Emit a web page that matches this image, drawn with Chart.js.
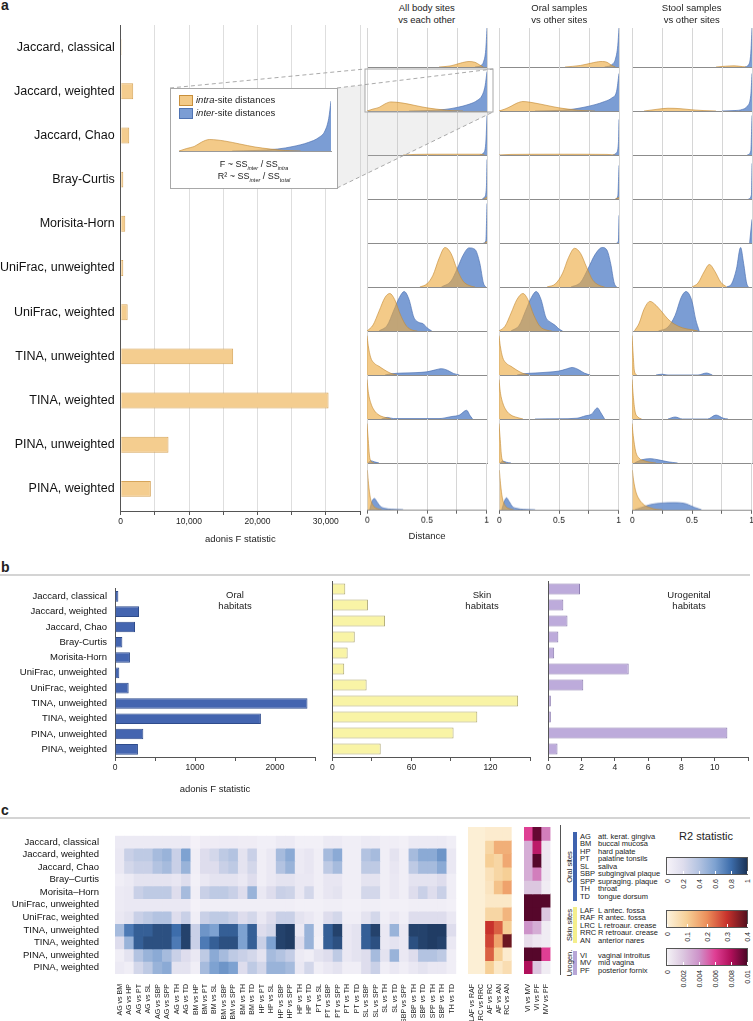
<!DOCTYPE html>
<html>
<head>
<meta charset="utf-8">
<script src="https://cdn.jsdelivr.net/npm/chart.js@4.4.1/dist/chart.umd.min.js"></script>
<style>
body { margin: 0; background: #fff; }
#fig { position: relative; width: 753px; height: 1021px; overflow: hidden; background: #fff;
       font-family: 'Liberation Sans', Arial, sans-serif; color: #222; }
#fig canvas { position: absolute; }
.t { position: absolute; white-space: nowrap; }
.rule { position: absolute; left: 0; width: 750px; height: 2px; background: #d4d4d4; }
.vt { position: absolute; white-space: nowrap; writing-mode: vertical-rl; transform: rotate(180deg); }
</style>
</head>
<body>
<div id="fig"></div>
<script>
// ---------- data ----------
// panel a : adonis F, all body sites
const metrics = ['Jaccard, classical', 'Jaccard, weighted', 'Jaccard, Chao', 'Bray-Curtis', 'Morisita-Horn',
  'UniFrac, unweighted', 'UniFrac, weighted', 'TINA, unweighted', 'TINA, weighted', 'PINA, unweighted', 'PINA, weighted'];
const fAll = [140, 1830, 1250, 380, 670, 380, 1020, 16450, 30400, 6990, 4410];

// panel b : adonis F by habitat
const oralF = [42, 300, 250, 92, 187, 54, 171, 2406, 1824, 354, 287];
const skinF = [9.8, 27, 40, 17, 11.6, 9, 26, 141, 110, 92, 36.7];
const uroF = [1.9, 0.9, 1.15, 0.6, 0.35, 4.83, 2.1, 0.15, 0.15, 10.76, 0.55];

// panel a : distance densities [distance, relative density]
const allIntra = [
  [[0.6,0],[0.7,0.03],[0.78,0.1],[0.85,0.14],[0.9,0.12],[0.94,0.05],[0.97,0]],
  [[0,0],[0.05,0.05],[0.1,0.09],[0.15,0.18],[0.2,0.23],[0.3,0.2],[0.4,0.14],[0.5,0.08],[0.6,0.04],[0.7,0.01],[0.8,0]],
  [[0.3,0],[0.4,0.015],[0.6,0.02],[0.8,0.02],[0.95,0.02],[0.98,0]],
  [[0.97,0],[0.99,0.03],[1,0.06]],
  [[0.98,0],[1,0.04]],
  [[0.44,0],[0.5,0.08],[0.55,0.3],[0.6,0.72],[0.65,1],[0.7,0.85],[0.75,0.45],[0.8,0.15],[0.85,0.04],[0.9,0]],
  [[0,0],[0.05,0.15],[0.1,0.5],[0.15,0.85],[0.19,0.95],[0.23,0.8],[0.28,0.4],[0.33,0.12],[0.38,0.02],[0.42,0]],
  [[0,1],[0.01,0.75],[0.03,0.45],[0.06,0.3],[0.1,0.22],[0.15,0.12],[0.2,0.04],[0.25,0]],
  [[0,1],[0.01,0.7],[0.03,0.42],[0.06,0.22],[0.1,0.1],[0.15,0.04],[0.2,0]],
  [[0,1],[0.01,0.6],[0.02,0.2],[0.03,0.06],[0.06,0]],
  [[0,1],[0.01,0.65],[0.025,0.3],[0.05,0.1],[0.08,0.03],[0.12,0]]
];
const allInter = [
  [[0.9,0],[0.95,0.04],[0.97,0.12],[0.99,0.45],[1,1]],
  [[0.35,0],[0.5,0.01],[0.65,0.04],[0.75,0.09],[0.85,0.17],[0.92,0.27],[0.96,0.4],[0.985,0.65],[1,1]],
  [[0.94,0],[0.97,0.05],[0.99,0.3],[1,1]],
  [[0.96,0],[0.98,0.05],[0.995,0.3],[1,1]],
  [[0.97,0],[0.99,0.05],[1,1]],
  [[0.62,0],[0.7,0.15],[0.75,0.45],[0.8,0.8],[0.85,0.99],[0.9,0.95],[0.94,0.6],[0.97,0.1],[0.99,0]],
  [[0.1,0],[0.17,0.15],[0.22,0.5],[0.27,0.85],[0.31,1],[0.35,0.8],[0.39,0.35],[0.43,0.22],[0.47,0.18],[0.5,0.08],[0.54,0]],
  [[0.15,0],[0.2,0.03],[0.3,0.05],[0.4,0.06],[0.5,0.08],[0.57,0.13],[0.62,0.16],[0.67,0.12],[0.72,0.04],[0.77,0]],
  [[0.12,0],[0.17,0.04],[0.22,0.01],[0.6,0.01],[0.7,0.06],[0.77,0.1],[0.83,0.22],[0.86,0.08],[0.88,0]],
  [[0.01,0],[0.03,0.06],[0.06,0.03],[0.1,0]],
  [[0.02,0],[0.04,0.22],[0.06,0.28],[0.08,0.2],[0.11,0.08],[0.15,0.03],[0.2,0.01],[0.3,0]]
];
const oralIntra = [
  [[0.55,0],[0.68,0.04],[0.77,0.1],[0.85,0.14],[0.9,0.12],[0.94,0.04],[0.97,0]],
  [[0,0],[0.05,0.05],[0.1,0.12],[0.15,0.2],[0.2,0.24],[0.3,0.2],[0.4,0.14],[0.5,0.08],[0.6,0.04],[0.7,0.01],[0.8,0]],
  [[0,0],[0.1,0.015],[0.5,0.02],[0.9,0.015],[0.97,0]],
  [[0.97,0],[1,0.04]],
  [],
  [[0.4,0],[0.47,0.08],[0.53,0.35],[0.58,0.75],[0.63,0.98],[0.68,0.85],[0.73,0.5],[0.78,0.18],[0.83,0.05],[0.88,0]],
  [[0,0],[0.05,0.12],[0.1,0.45],[0.15,0.8],[0.2,0.95],[0.24,0.8],[0.29,0.4],[0.34,0.12],[0.4,0.02],[0.44,0]],
  [[0,1],[0.01,0.75],[0.03,0.45],[0.06,0.3],[0.1,0.22],[0.15,0.12],[0.2,0.04],[0.25,0]],
  [[0,1],[0.01,0.7],[0.03,0.42],[0.06,0.22],[0.1,0.1],[0.15,0.04],[0.2,0]],
  [[0,1],[0.01,0.6],[0.02,0.2],[0.03,0.06],[0.06,0]],
  [[0,1],[0.01,0.65],[0.025,0.3],[0.05,0.1],[0.08,0.03],[0.12,0]]
];
const oralInter = [
  [[0.88,0],[0.94,0.06],[0.97,0.2],[0.99,0.55],[1,1]],
  [[0.3,0],[0.45,0.01],[0.6,0.04],[0.7,0.09],[0.8,0.16],[0.88,0.24],[0.94,0.33],[0.98,0.5],[1,0.95]],
  [[0.95,0],[0.98,0.06],[0.995,0.3],[1,0.9]],
  [[0.97,0],[0.99,0.08],[1,0.85]],
  [[0.98,0],[0.995,0.05],[1,0.7]],
  [[0.6,0],[0.68,0.12],[0.74,0.45],[0.8,0.82],[0.86,1],[0.9,0.93],[0.93,0.6],[0.96,0.1],[0.98,0]],
  [[0.1,0],[0.17,0.15],[0.22,0.5],[0.27,0.85],[0.31,1],[0.35,0.8],[0.39,0.35],[0.43,0.22],[0.47,0.14],[0.5,0.05],[0.53,0]],
  [[0.15,0],[0.2,0.03],[0.3,0.05],[0.4,0.07],[0.5,0.1],[0.56,0.15],[0.61,0.19],[0.66,0.14],[0.71,0.05],[0.76,0]],
  [[0.3,0],[0.5,0.005],[0.65,0.02],[0.72,0.08],[0.77,0.12],[0.82,0.28],[0.85,0.15],[0.88,0]],
  [[0.01,0],[0.03,0.05],[0.06,0.02],[0.1,0]],
  [[0.02,0],[0.04,0.2],[0.06,0.3],[0.08,0.22],[0.11,0.08],[0.15,0.03],[0.2,0.01],[0.3,0]]
];
const stoolIntra = [
  [[0.7,0],[0.78,0.02],[0.85,0.03],[0.92,0.01],[0.95,0]],
  [[0.1,0],[0.2,0.04],[0.3,0.07],[0.4,0.06],[0.5,0.03],[0.6,0.01],[0.7,0]],
  [],
  [],
  [],
  [[0.5,0],[0.55,0.1],[0.6,0.38],[0.645,0.57],[0.69,0.4],[0.74,0.12],[0.79,0]],
  [[0.02,0],[0.06,0.2],[0.1,0.55],[0.15,0.75],[0.2,0.65],[0.25,0.48],[0.3,0.3],[0.35,0.18],[0.42,0.08],[0.5,0.03],[0.55,0]],
  [[0,1],[0.01,0.5],[0.02,0.1],[0.04,0]],
  [[0,1],[0.01,0.6],[0.025,0.2],[0.05,0.05],[0.08,0]],
  [[0,1],[0.01,0.7],[0.03,0.3],[0.06,0.12],[0.1,0.06],[0.15,0.02],[0.2,0]],
  [[0,1],[0.01,0.75],[0.03,0.45],[0.06,0.25],[0.1,0.12],[0.15,0.05],[0.2,0.01],[0.25,0]]
];
const stoolInter = [
  [[0.94,0],[0.97,0.05],[0.99,0.35],[1,1]],
  [[0.75,0],[0.85,0.01],[0.92,0.04],[0.96,0.12],[0.99,0.4],[1,0.95]],
  [[0.96,0],[0.99,0.1],[1,1]],
  [[0.97,0],[0.995,0.1],[1,0.9]],
  [[0.98,0],[1,0.6]],
  [[0.79,0],[0.83,0.08],[0.87,0.45],[0.905,1],[0.93,0.6],[0.955,0.1],[0.97,0]],
  [[0.22,0],[0.3,0.1],[0.36,0.4],[0.41,0.85],[0.45,1],[0.5,0.75],[0.53,0.3],[0.56,0]],
  [[0.2,0],[0.25,0.02],[0.3,0],[0.55,0],[0.62,0.05],[0.67,0]],
  [[0.3,0],[0.36,0.05],[0.42,0],[0.63,0],[0.7,0.1],[0.76,0.02],[0.8,0]],
  [[0.02,0],[0.08,0.08],[0.15,0.11],[0.22,0.08],[0.3,0.03],[0.38,0]],
  [[0.02,0],[0.08,0.06],[0.15,0.13],[0.25,0.17],[0.35,0.18],[0.45,0.15],[0.52,0.06],[0.58,0]]
];
const colTitles = [['All body sites', 'vs each other'], ['Oral samples', 'vs other sites'], ['Stool samples', 'vs other sites']];

// panel c : R2 heatmaps
const metricsC = ['Jaccard, classical', 'Jaccard, weighted', 'Jaccard, Chao', 'Bray\u2013Curtis', 'Morisita\u2013Horn',
  'UniFrac, unweighted', 'UniFrac, weighted', 'TINA, unweighted', 'TINA, weighted', 'PINA, unweighted', 'PINA, weighted'];
const oralPairs = ['AG vs BM','AG vs HP','AG vs PT','AG vs SL','AG vs SBP','AG vs SPP','AG vs TH','AG vs TD',
  'BM vs HP','BM vs PT','BM vs SL','BM vs SBP','BM vs SPP','BM vs TH','BM vs TD',
  'HP vs PT','HP vs SL','HP vs SBP','HP vs SPP','HP vs TH','HP vs TD',
  'PT vs SL','PT vs SBP','PT vs SPP','PT vs TH','PT vs TD',
  'SL vs SBP','SL vs SPP','SL vs TH','SL vs TD','SBP vs SPP','SBP vs TH','SBP vs TD','SPP vs TH','SBP vs TH','TH vs TD'];
const skinPairs = ['LAF vs RAF', 'LRC vs RRC', 'AF vs RC', 'AF vs AN', 'RC vs AN'];
const uroPairs = ['VI vs MV', 'VI vs PF', 'MV vs PF'];
const r2Oral = [
  [0.08,0.08,0.08,0.08,0.08,0.08,0.08,0.08,0.02,0.06,0.06,0.07,0.07,0.06,0.06,0.04,0.04,0.08,0.08,0.03,0.03,0.03,0.08,0.08,0.05,0.05,0.08,0.08,0.05,0.05,0.03,0.08,0.08,0.08,0.08,0.05],
  [0.1,0.3,0.35,0.35,0.45,0.5,0.3,0.6,0.05,0.2,0.25,0.35,0.4,0.15,0.3,0.05,0.1,0.45,0.55,0.08,0.12,0.05,0.45,0.55,0.05,0.05,0.4,0.45,0.05,0.15,0.05,0.45,0.55,0.55,0.65,0.1],
  [0.1,0.25,0.3,0.3,0.4,0.45,0.3,0.5,0.05,0.2,0.2,0.3,0.35,0.15,0.25,0.05,0.1,0.4,0.5,0.08,0.12,0.05,0.35,0.45,0.05,0.05,0.35,0.35,0.05,0.12,0.05,0.35,0.45,0.45,0.55,0.1],
  [0.05,0.08,0.15,0.15,0.15,0.15,0.12,0.2,0.03,0.1,0.15,0.15,0.15,0.1,0.2,0.05,0.1,0.15,0.15,0.1,0.1,0.05,0.12,0.12,0.05,0.05,0.15,0.15,0.05,0.1,0.05,0.15,0.15,0.15,0.2,0.05],
  [0.08,0.1,0.3,0.35,0.35,0.35,0.2,0.45,0.05,0.3,0.35,0.35,0.3,0.2,0.5,0.1,0.2,0.3,0.28,0.1,0.25,0.05,0.12,0.15,0.05,0.05,0.25,0.25,0.05,0.1,0.05,0.2,0.3,0.2,0.3,0.05],
  [0.08,0.1,0.1,0.1,0.1,0.1,0.1,0.1,0.02,0.05,0.05,0.05,0.05,0.05,0.05,0.05,0.05,0.05,0.05,0.03,0.03,0.03,0.05,0.05,0.03,0.03,0.05,0.05,0.03,0.03,0.03,0.05,0.05,0.05,0.05,0.03],
  [0.1,0.15,0.3,0.35,0.4,0.4,0.2,0.3,0.05,0.3,0.35,0.35,0.3,0.2,0.25,0.1,0.2,0.3,0.3,0.15,0.1,0.05,0.2,0.25,0.05,0.05,0.15,0.25,0.05,0.1,0.05,0.2,0.2,0.2,0.2,0.1],
  [0.45,0.75,0.85,0.85,0.9,0.9,0.8,0.95,0.3,0.65,0.6,0.85,0.85,0.6,0.85,0.2,0.25,0.95,0.97,0.1,0.5,0.05,0.85,0.95,0.1,0.15,0.85,0.95,0.1,0.5,0.1,0.95,0.95,0.97,0.97,0.2],
  [0.2,0.5,0.85,0.9,0.9,0.9,0.75,0.95,0.3,0.75,0.85,0.9,0.9,0.6,0.85,0.3,0.6,0.95,0.97,0.2,0.5,0.03,0.85,0.9,0.1,0.15,0.85,0.9,0.1,0.15,0.1,0.9,0.95,0.97,0.95,0.1],
  [0.05,0.15,0.4,0.5,0.55,0.45,0.3,0.2,0.1,0.35,0.55,0.45,0.35,0.3,0.25,0.15,0.45,0.4,0.32,0.08,0.05,0.15,0.2,0.35,0.1,0.15,0.2,0.45,0.15,0.5,0.1,0.2,0.4,0.4,0.35,0.05],
  [0.08,0.05,0.25,0.35,0.5,0.55,0.15,0.15,0.05,0.45,0.6,0.65,0.6,0.2,0.35,0.25,0.5,0.5,0.45,0.1,0.25,0.05,0.1,0.15,0.05,0.05,0.2,0.3,0.05,0.1,0.05,0.1,0.15,0.1,0.1,0.05]
];
const r2Skin = [
  [0.01,0.01,0.02,0.02,0.02], [0.01,0.01,0.08,0.15,0.15], [0.01,0.01,0.1,0.08,0.16], [0.01,0.01,0.05,0.08,0.1],
  [0.01,0.01,0.04,0.12,0.17], [0.01,0.01,0.03,0.03,0.03], [0.01,0.01,0.08,0.08,0.14], [0.01,0.01,0.3,0.25,0.1],
  [0.01,0.01,0.28,0.17,0.38], [0.01,0.01,0.25,0.1,0.02], [0.01,0.01,0.1,0.03,0.06]
];
const r2Uro = [
  [0.006,0.0095,0.0045], [0.003,0.0075,0.0005], [0.003,0.0098,0.0005], [0.003,0.0045,0.0005],
  [0.002,0.002,0.0003], [0.0098,0.0098,0.0098], [0.0098,0.0098,0.002], [0.004,0.003,0.0003],
  [0.001,0.0005,0.0003], [0.0098,0.0098,0.006], [0.008,0.002,0.0003]
];

// colour scales of the three R2 legends
const blueStops = [[0,'#f6f3f9'],[0.2,'#dedded'],[0.4,'#b3c3e1'],[0.6,'#7ea2d1'],[0.8,'#3d6dab'],[1,'#1b3357']];
const orangeStops = [[0,'#fdf2dc'],[0.1,'#f6cf96'],[0.2,'#ec8e5a'],[0.3,'#c8322c'],[0.4,'#55101e']];
const purpleStops = [[0,'#f4f2f6'],[0.002,'#dcc7e0'],[0.004,'#cd93c9'],[0.006,'#df3f94'],[0.008,'#b00f5a'],[0.01,'#4c0626']];

const siteCodes = [
  { name: 'Oral sites', color: '#3f63ae', top: 832, bottom: 901, first: 836, codes: [['AG','att. kerat. gingiva'],['BM','buccal mucosa'],['HP','hard palate'],['PT','palatine tonsils'],['SL','saliva'],['SBP','subgingival plaque'],['SPP','supraging. plaque'],['TH','throat'],['TD','tongue dorsum']] },
  { name: 'Skin sites', color: '#f4ee8c', top: 907, bottom: 943, first: 910, codes: [['LAF','L antec. fossa'],['RAF','R antec. fossa'],['LRC','L retroaur. crease'],['RRC','R retroaur. crease'],['AN','anterior nares']] },
  { name: 'Urogen.', color: '#b7a6d6', top: 951, bottom: 975, first: 955, codes: [['VI','vaginal introitus'],['MV','mid vagina'],['PF','posterior fornix']] }
];

// ---------- helpers ----------
Chart.defaults.font.family = "'Liberation Sans', Arial, sans-serif";
Chart.defaults.color = '#222';
const fig = document.getElementById('fig');

function addCanvas(left, top, w, h, parent, z) {
  const c = document.createElement('canvas');
  c.width = w; c.height = h;
  c.style.left = left + 'px'; c.style.top = top + 'px';
  c.style.width = w + 'px'; c.style.height = h + 'px';
  if (z) c.style.zIndex = z;
  (parent || fig).appendChild(c);
  return c;
}
function addText(html, left, top, css, parent) {
  const d = document.createElement('div');
  d.className = 't';
  d.innerHTML = html;
  d.style.cssText += 'left:' + left + 'px;top:' + top + 'px;' + (css || '');
  (parent || fig).appendChild(d);
  return d;
}
function hex(h) { return [1, 3, 5].map(i => parseInt(h.slice(i, i + 2), 16)); }
function colourScale(stops) {
  return v => {
    let i = 1;
    while (i < stops.length - 1 && v > stops[i][0]) i++;
    const [v0, c0] = stops[i - 1], [v1, c1] = stops[i];
    const t = Math.max(0, Math.min(1, (v - v0) / (v1 - v0)));
    const a = hex(c0), b = hex(c1);
    return 'rgb(' + a.map((x, k) => Math.round(x + (b[k] - x) * t)).join(',') + ')';
  };
}
const xy = a => a.map(p => ({ x: p[0], y: p[1] }));
const noPlugins = { legend: { display: false }, tooltip: { enabled: false } };

// ---------- panel labels and rules ----------
addText('a', 1, -3, 'font-weight:bold;font-size:14px;');
addText('b', 1, 559, 'font-weight:bold;font-size:14px;');
addText('c', 1, 802, 'font-weight:bold;font-size:14px;');
fig.insertAdjacentHTML('beforeend', '<div class="rule" style="top:574px"></div><div class="rule" style="top:817px"></div>');

// ---------- panel a : bars ----------
new Chart(addCanvas(0, 0, 372, 545), {
  type: 'bar',
  data: { labels: metrics, datasets: [{ data: fAll, backgroundColor: '#f4cd8f', borderColor: '#d6a55a', borderWidth: 1,
    barPercentage: 0.36, categoryPercentage: 1 }] },
  options: {
    indexAxis: 'y', responsive: false, animation: false, events: [],
    layout: { padding: { top: 25, right: 12 } },
    plugins: noPlugins,
    scales: {
      x: { min: 0, max: 35000,
        ticks: { stepSize: 5000, font: { size: 8.5 }, padding: 2, maxRotation: 0,
          callback: v => v % 10000 === 0 ? v.toLocaleString('en-US') : '' },
        grid: { color: '#dedede', tickColor: '#555', tickLength: 4 }, border: { color: '#555' },
        title: { display: true, text: 'adonis F statistic', font: { size: 9.5 }, padding: { top: 1, bottom: 0 } },
        afterFit: s => { s.height = 34; } },
      y: { ticks: { font: { size: 12.5 }, color: '#111', padding: 6, autoSkip: false },
        grid: { display: true, drawOnChartArea: false, drawTicks: false }, border: { color: '#555' },
        afterFit: s => { s.width = 120.7; } }
    }
  }
});

// ---------- panel a : density ridges ----------
const densCols = [[allIntra, allInter], [oralIntra, oralInter], [stoolIntra, stoolInter]];
const colLeft = [366.7, 499.3, 631.7];
const baseline = r => r < 10 ? 67.3 + 44 * r : 510;
const intraFill = 'rgba(235,170,63,0.62)', intraLine = 'rgba(196,138,52,0.9)';
const interFill = 'rgba(116,152,210,0.95)', interLine = '#4f73b3';

function densityChart(canvas, intra, inter, yMax, xOpts) {
  return new Chart(canvas, {
    type: 'line',
    data: { datasets: [
      { data: xy(intra), fill: 'origin', backgroundColor: intraFill, borderColor: intraLine, borderWidth: 0.7,
        pointRadius: 0, cubicInterpolationMode: 'monotone' },
      { data: xy(inter), fill: 'origin', backgroundColor: interFill, borderColor: interLine, borderWidth: 0.7,
        pointRadius: 0, cubicInterpolationMode: 'monotone' }
    ] },
    options: {
      responsive: false, animation: false, events: [],
      layout: { padding: { left: 4, right: 4, top: 0, bottom: 0 } },
      plugins: noPlugins,
      scales: { x: xOpts, y: { display: false, min: 0, max: yMax } }
    }
  });
}

densCols.forEach(([intra, inter], c) => {
  colTitles[c].forEach((line, k) => addText(line, colLeft[c] + 60, 2 + 12 * k, 'font-size:9.5px;transform:translateX(-50%);'));
  for (let r = 0; r < 11; r++) {
    const top = r === 0 ? 28 : baseline(r - 1);
    const h = baseline(r) - top;
    const last = r === 10;
    const extra = last ? (c === 0 ? 32 : 18) : 1;
    densityChart(addCanvas(colLeft[c] - 4, top, 128, h + extra), intra[r], inter[r], h / 39.5, {
      type: 'linear', min: 0, max: 1,
      ticks: { display: last, stepSize: 0.25, font: { size: 8.5 }, padding: 2, maxRotation: 0, autoSkip: false,
        callback: v => (v === 0 || v === 0.5 || v === 1) ? String(v) : '' },
      grid: { color: '#d6d6d6', drawTicks: last, tickLength: 4, tickColor: '#666' },
      border: { color: '#8c8c8c' },
      title: { display: last && c === 0, text: 'Distance', font: { size: 9.5 }, padding: { top: 3, bottom: 0 } },
      afterFit: s => { s.height = extra; }
    });
  }
});

// zoom connector and inset
fig.insertAdjacentHTML('beforeend',
  '<svg width="753" height="560" style="position:absolute;left:0;top:0;z-index:4">' +
  '<polygon points="337,88 365,84.8 365,112 493,112 337,188" fill="rgba(185,185,185,0.22)"/>' +
  '<rect x="365" y="69" width="128" height="43" fill="none" stroke="#a8a8a8" stroke-width="1"/>' +
  '<g stroke="#a0a0a0" stroke-width="0.9" stroke-dasharray="4,3">' +
  '<line x1="170" y1="88" x2="365" y2="69"/><line x1="337" y1="88" x2="493" y2="69"/>' +
  '<line x1="337" y1="188" x2="493" y2="112"/></g></svg>');

const inset = document.createElement('div');
inset.style.cssText = 'position:absolute;left:170px;top:88px;width:166px;height:99px;border:1px solid #a8a8a8;background:#fff;z-index:5;';
fig.appendChild(inset);
densityChart(addCanvas(4, 12, 160, 51, inset), allIntra[1], allInter[1], 1, {
  type: 'linear', min: 0, max: 1, ticks: { display: false }, grid: { display: false }, border: { color: '#999' },
  afterFit: s => { s.height = 1; }
});
inset.insertAdjacentHTML('beforeend',
  '<div style="position:absolute;left:8px;top:6px;width:12px;height:9px;background:' + intraFill + ';border:1px solid ' + intraLine + '"></div>' +
  '<div style="position:absolute;left:8px;top:19px;width:12px;height:9px;background:' + interFill + ';border:1px solid ' + interLine + '"></div>');
addText('<i>intra</i>-site distances', 25, 5, 'font-size:9.5px;', inset);
addText('<i>inter</i>-site distances', 25, 18, 'font-size:9.5px;', inset);
const sub = t => '<sub style="font-size:5.5px;font-style:italic;">' + t + '</sub>';
addText('F ~ SS' + sub('inter') + ' / SS' + sub('intra'), 83, 70, 'font-size:9px;transform:translateX(-50%);', inset);
addText('R\u00b2 ~ SS' + sub('inter') + ' / SS' + sub('total'), 83, 82, 'font-size:9px;transform:translateX(-50%);', inset);

// ---------- panel b ----------
function habitatChart(left, width, padRight, yWidth, values, max, step, major, fill, border, showNames, title) {
  new Chart(addCanvas(left, 575, width, 220), {
    type: 'bar',
    data: { labels: metrics, datasets: [{ data: values, backgroundColor: fill, borderColor: border, borderWidth: 1,
      barPercentage: 0.69, categoryPercentage: 1 }] },
    options: {
      indexAxis: 'y', responsive: false, animation: false, events: [],
      layout: { padding: { top: 6, right: padRight } },
      plugins: noPlugins,
      scales: {
        x: { min: 0, max: max,
          ticks: { stepSize: step, font: { size: 8.5 }, padding: 2, maxRotation: 0, autoSkip: false,
            callback: v => (v < max && Math.abs(v / major - Math.round(v / major)) < 1e-9) ? String(v) : '' },
          grid: { drawOnChartArea: false, tickLength: 4, tickColor: '#555' }, border: { color: '#555' },
          title: { display: !!title, text: title || '', font: { size: 9.5 }, padding: { top: 3, bottom: 0 } },
          afterFit: s => { s.height = 38; } },
        y: { ticks: { display: showNames, font: { size: 9.5 }, color: '#111', padding: 8, autoSkip: false },
          grid: { drawOnChartArea: false, drawTicks: false }, border: { color: '#555' },
          afterFit: s => { s.width = yWidth; } }
      }
    }
  });
}
habitatChart(0, 322, 7, 115, oralF, 2500, 500, 1000, '#4465b0', '#2f4c8c', true, 'adonis F statistic');
habitatChart(328, 208, 6, 4, skinF, 150, 30, 60, '#f9f4a6', '#aea872', false);
habitatChart(544, 209, 5, 4, uroF, 12, 2, 2, '#bdabdb', '#8b7bb0', false);
addText('Oral<br>habitats', 235, 589, 'font-size:9.5px;line-height:11px;text-align:center;transform:translateX(-50%);');
addText('Skin<br>habitats', 482, 589, 'font-size:9.5px;line-height:11px;text-align:center;transform:translateX(-50%);');
addText('Urogenital<br>habitats', 689, 589, 'font-size:9.5px;line-height:11px;text-align:center;transform:translateX(-50%);');

// ---------- panel c : heatmaps ----------
function heatmap(left, width, padL, padR, pairs, values, colourOf, names) {
  const scales = {
    x: { stacked: true, grid: { display: false }, border: { display: false },
      ticks: { autoSkip: false, maxRotation: 90, minRotation: 90, font: { size: 7 }, padding: 2, color: '#222' },
      afterFit: s => { s.height = 47; } },
    y: { stacked: true, display: false, min: 0, max: values.length, reverse: true }
  };
  if (names) {
    scales.yNames = { axis: 'y', type: 'category', labels: names, position: 'left', offset: true,
      grid: { display: false }, border: { display: false },
      ticks: { font: { size: 9.5 }, color: '#111', padding: 8, autoSkip: false }, afterFit: s => { s.width = 115; } };
  }
  new Chart(addCanvas(left, 822, width, 199), {
    type: 'bar',
    data: { labels: pairs, datasets: values.map((row, r) => ({ label: metricsC[r], data: row.map(() => 1),
      backgroundColor: row.map(colourOf), borderWidth: 0, barPercentage: 1, categoryPercentage: 1 })) },
    options: { responsive: false, animation: false, events: [],
      layout: { padding: { top: 5, left: padL, right: padR } }, plugins: noPlugins, scales }
  });
}
heatmap(0, 462, 0, 2, oralPairs, r2Oral, colourScale(blueStops), metricsC);
heatmap(465, 53, 3, 3, skinPairs, r2Skin, colourScale(orangeStops));
heatmap(521, 36, 3, 3, uroPairs, r2Uro, colourScale(purpleStops));

// site legend
fig.insertAdjacentHTML('beforeend', '<div style="position:absolute;left:560px;top:825px;width:1px;height:150px;background:#555"></div>');
siteCodes.forEach(g => {
  fig.insertAdjacentHTML('beforeend', '<div style="position:absolute;left:573px;top:' + g.top + 'px;width:4px;height:' +
    (g.bottom - g.top) + 'px;background:' + g.color + '"></div>');
  addText(g.name, 569, (g.top + g.bottom) / 2, 'font-size:7.5px;transform:translate(-50%,-50%) rotate(-90deg);');
  g.codes.forEach(([code, desc], k) => {
    const y = g.first + 7.5 * k - 4.5;
    addText(code, 580, y, 'font-size:7.5px;line-height:9px;color:#222;');
    addText(desc, 598, y, 'font-size:7.5px;line-height:9px;color:#222;');
  });
});

// colour bars
addText('R2 statistic', 706, 830, 'font-size:11px;transform:translateX(-50%);');
function colourBar(top, stops, labels) {
  const vmax = stops[stops.length - 1][0];
  const grad = stops.map(([v, c]) => c + ' ' + (v / vmax * 100) + '%').join(',');
  fig.insertAdjacentHTML('beforeend', '<div style="position:absolute;left:666px;top:' + top +
    'px;width:80px;height:16px;border:1px solid #555;background:linear-gradient(to right,' + grad + ')"></div>');
  labels.forEach((lab, i) => {
    const x = 667 + 80 * i / (labels.length - 1);
    fig.insertAdjacentHTML('beforeend', '<div style="position:absolute;left:' + (x - 0.5) + 'px;top:' + (top + 14) +
      'px;width:1px;height:3px;background:#fff"></div>');
    const d = addText(lab, x - 4.5, top + 22, 'font-size:7px;line-height:9px;');
    d.className = 'vt';
  });
}
colourBar(857, blueStops, ['0', '0.2', '0.4', '0.6', '0.8', '1']);
colourBar(910, orangeStops, ['0', '0.1', '0.2', '0.3', '0.4']);
colourBar(948, purpleStops, ['0', '0.002', '0.004', '0.006', '0.008', '0.01']);
</script>
</body>
</html>
